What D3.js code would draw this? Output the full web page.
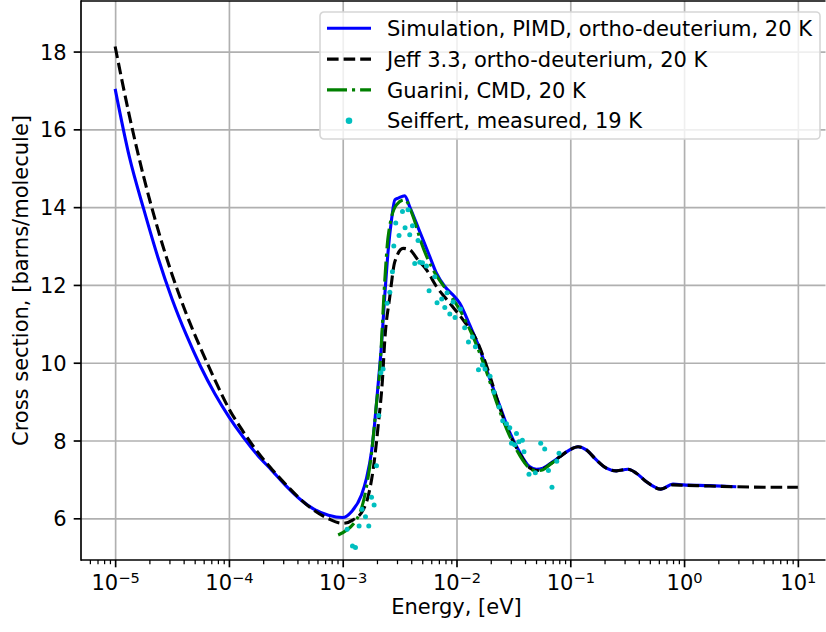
<!DOCTYPE html>
<html>
<head>
<meta charset="utf-8">
<script src="https://cdn.jsdelivr.net/npm/d3@7"></script>
<style>
  body { margin: 0; background: #fff; }
  svg { display: block; font-family: 'DejaVu Sans', sans-serif; }
</style>
</head>
<body>
<svg width="826" height="632"></svg>
<script>
// Simulation, PIMD (energy in eV, cross section in barns/molecule)
const simEnergy = [1.00e-5, 1.334e-5, 1.778e-5, 2.371e-5, 3.162e-5, 4.217e-5, 5.623e-5, 7.499e-5, 1.00e-4,
  1.334e-4, 1.778e-4, 2.371e-4, 3.162e-4, 4.217e-4, 5.623e-4, 7.499e-4, 1.00e-3, 1.194e-3, 1.462e-3,
  1.618e-3, 1.791e-3, 1.914e-3, 2.046e-3, 2.193e-3,
  2.344e-3, 2.512e-3, 2.692e-3, 2.871e-3, 3.069e-3, 3.508e-3, 3.882e-3, 4.753e-3, 5.821e-3, 6.668e-3,
  7.889e-3, 9.333e-3, 1.069e-2, 1.306e-2, 1.596e-2, 1.954e-2, 2.388e-2, 2.917e-2, 3.573e-2, 4.375e-2,
  5.035e-2, 5.754e-2, 7.047e-2, 8.072e-2, 9.886e-2, 0.1169, 0.1384, 0.1694, 0.2075, 0.2541, 0.3214,
  0.3802, 0.4667, 0.6252, 0.7980, 0.9772, 1.690, 2.877]
const simXs = [17.04, 15.29, 13.96, 12.72, 11.64, 10.72, 9.91, 9.21, 8.61,
  8.09, 7.63, 7.24, 6.84, 6.49, 6.23, 6.08, 6.02, 6.17, 6.60,
  7.03, 7.71, 8.48, 9.43, 10.46,
  11.74, 12.90, 13.70, 14.19, 14.23, 14.29, 14.01, 13.37, 12.73, 12.30,
  11.96, 11.74, 11.53, 10.97, 10.37, 9.60, 8.91, 8.23, 7.71, 7.33,
  7.26, 7.29, 7.46, 7.58, 7.76, 7.84, 7.76, 7.50, 7.29, 7.22, 7.26,
  7.16, 6.94, 6.75, 6.88, 6.86, 6.84, 6.81]

// Jeff 3.3
const jeffEnergy = [1.00e-5, 1.334e-5, 1.778e-5, 2.371e-5, 3.162e-5, 4.217e-5, 5.623e-5, 7.499e-5, 1.00e-4,
  1.334e-4, 1.778e-4, 2.371e-4, 3.162e-4, 4.217e-4, 5.623e-4, 7.499e-4, 1.00e-3, 1.233e-3, 1.510e-3,
  1.671e-3, 1.849e-3, 2.046e-3, 2.234e-3, 2.344e-3,
  2.594e-3, 2.871e-3, 3.396e-3, 3.882e-3, 4.592e-3, 5.445e-3, 6.668e-3, 8.730e-3, 1.143e-2, 1.496e-2,
  1.892e-2, 2.388e-2, 2.917e-2, 3.573e-2, 4.375e-2, 5.035e-2, 5.754e-2, 7.047e-2, 8.072e-2, 9.886e-2,
  0.1169, 0.1384, 0.1694, 0.2075, 0.2541, 0.3214, 0.3802, 0.4667, 0.6252, 0.7980, 0.9772, 1.690, 2.877,
  5.0, 10.0]
const jeffXs = [18.13, 16.35, 14.79, 13.44, 12.27, 11.26, 10.38, 9.57, 8.82,
  8.23, 7.71, 7.27, 6.87, 6.50, 6.20, 5.99, 5.87, 5.96, 6.21,
  6.56, 7.24, 8.36, 9.56, 10.59,
  11.70, 12.60, 12.94, 12.90, 12.64, 12.39, 11.96, 11.53, 11.10, 10.59,
  9.81, 8.87, 8.18, 7.68, 7.30, 7.23, 7.27, 7.45, 7.58, 7.76,
  7.84, 7.76, 7.50, 7.29, 7.22, 7.26, 7.16, 6.94, 6.75, 6.86, 6.85, 6.83, 6.81,
  6.80, 6.80]

// Guarini, CMD
const guariniEnergy = [9.12e-4, 1.365e-3, 1.618e-3, 1.791e-3, 1.982e-3, 2.118e-3, 2.344e-3, 2.506e-3,
  2.972e-3, 3.508e-3, 4.150e-3, 4.920e-3, 6.223e-3, 8.166e-3, 1.069e-2, 1.396e-2, 1.770e-2, 2.239e-2,
  2.754e-2, 3.388e-2, 4.169e-2, 5.012e-2, 5.754e-2, 6.607e-2, 7.551e-2]
const guariniXs = [5.57, 6.04, 6.81, 7.67, 8.96, 9.81, 12.13, 13.24,
  14.06, 14.19, 13.76, 13.07, 12.39, 11.87, 11.36, 10.67, 9.90, 9.00,
  8.30, 7.75, 7.35, 7.22, 7.25, 7.38, 7.50]

// Seiffert, measured
const seiffertEnergy = [1.219e-3, 1.294e-3, 1.094e-3, 1.393e-3, 1.694e-3, 1.585e-3, 1.479e-3, 1.888e-3,
  1.791e-3, 1.982e-3, 2.075e-3, 2.163e-3, 2.265e-3, 2.455e-3, 2.594e-3, 2.735e-3, 2.812e-3, 2.924e-3,
  3.126e-3, 3.350e-3, 3.532e-3, 3.750e-3, 3.882e-3, 4.102e-3, 4.592e-3, 4.295e-3, 4.753e-3, 5.023e-3,
  5.445e-3, 5.741e-3, 6.442e-3, 6.745e-3, 7.413e-3, 7.889e-3, 8.260e-3, 8.730e-3, 9.333e-3, 9.705e-3,
  1.084e-2, 1.180e-2, 1.274e-2, 1.380e-2, 1.466e-2, 1.560e-2, 1.690e-2, 1.782e-2, 1.972e-2, 2.138e-2,
  2.366e-2, 2.547e-2, 2.748e-2, 2.938e-2, 3.365e-2, 3.041e-2, 3.251e-2, 3.540e-2, 3.793e-2, 3.917e-2,
  4.335e-2, 4.932e-2, 5.495e-2, 5.957e-2, 6.427e-2, 6.902e-2, 7.603e-2, 7.962e-2]
const seiffertXs = [5.29, 5.25, 5.72, 5.80, 5.80, 6.04, 6.23, 6.34,
  6.54, 7.35, 8.64, 9.74, 9.84, 11.53, 11.81, 12.34, 13.00, 13.59,
  13.27, 13.89, 13.47, 13.93, 13.29, 13.52, 13.14, 12.55, 12.58, 12.57,
  12.49, 11.85, 12.21, 11.54, 11.64, 11.42, 11.80, 11.25, 11.56, 11.16,
  11.38, 10.90, 10.53, 10.66, 10.41, 9.82, 9.94, 9.84, 9.65, 9.24,
  8.86, 8.51, 8.43, 8.33, 8.18, 7.93, 7.89, 7.97, 8.01, 7.71,
  7.13, 7.17, 7.93, 7.78, 7.23, 6.80, 7.47, 7.67]

const xTickPowers = [-5, -4, -3, -2, -1, 0, 1]
const yTicks = [6, 8, 10, 12, 14, 16, 18]
const legendLabels = [
  'Simulation, PIMD, ortho-deuterium, 20 K',
  'Jeff 3.3, ortho-deuterium, 20 K',
  'Guarini, CMD, 20 K',
  'Seiffert, measured, 19 K'
]

const svg = d3.select('svg')
const width = +svg.attr('width')
const fontSize = 21

// the axes box runs a few px past the right edge of the picture
const box = { left: 81, top: 1, right: 832, bottom: 560 }
const visRight = width - 0.5
const innerHeight = box.bottom - box.top

const xScale = d3.scaleLog()
  .domain([10 ** -5.3, 10 ** 1.3])
  .range([box.left, box.right])

const yScale = d3.scaleLinear()
  .domain([4.928, 19.30])
  .range([box.bottom, box.top])

const xMajor = xTickPowers.map(p => 10 ** p)
const xMinor = []
d3.range(-6, 2).forEach(p => {
  d3.range(2, 10).forEach(m => {
    const v = m * 10 ** p
    if (v > xScale.domain()[0] && xScale(v) < visRight) xMinor.push(v)
  })
})

svg.append('defs').append('clipPath').attr('id', 'plot-area')
  .append('rect')
  .attr('x', box.left).attr('y', box.top)
  .attr('width', visRight - box.left).attr('height', innerHeight)

// grid
const gridX = svg.append('g')
  .attr('transform', `translate(0, ${box.bottom})`)
  .call(d3.axisBottom(xScale).tickValues(xMajor).tickSize(-innerHeight).tickFormat(''))
gridX.select('.domain').remove()
gridX.selectAll('text').remove()
gridX.selectAll('line').attr('stroke', '#b0b0b0').attr('stroke-width', 1.67)

const gridY = svg.append('g')
  .attr('transform', `translate(${box.left}, 0)`)
  .call(d3.axisLeft(yScale).tickValues(yTicks).tickSize(-(visRight - box.left)).tickFormat(''))
gridY.select('.domain').remove()
gridY.selectAll('text').remove()
gridY.selectAll('line').attr('stroke', '#b0b0b0').attr('stroke-width', 1.67)

// curves
const plot = svg.append('g').attr('clip-path', 'url(#plot-area)')

const line = d3.line()
  .x(d => xScale(d[0]))
  .y(d => yScale(d[1]))
  .curve(d3.curveMonotoneX)

const series = [
  { e: simEnergy, v: simXs, color: '#0000ff', dash: null },
  { e: jeffEnergy, v: jeffXs, color: '#000000', dash: '11.6 5' },
  { e: guariniEnergy, v: guariniXs, color: '#008000', dash: '20 5 3.1 5' }
]

series.forEach(s => {
  plot.append('path')
    .datum(d3.zip(s.e, s.v))
    .attr('d', line)
    .attr('fill', 'none')
    .attr('stroke', s.color)
    .attr('stroke-width', 3.1)
    .attr('stroke-dasharray', s.dash)
})

plot.selectAll('circle').data(d3.zip(seiffertEnergy, seiffertXs))
  .enter().append('circle')
  .attr('cx', d => xScale(d[0]))
  .attr('cy', d => yScale(d[1]))
  .attr('r', 2.5)
  .attr('fill', '#00bfbf')

// axes
const xAxisG = svg.append('g')
  .attr('transform', `translate(0, ${box.bottom})`)
  .call(d3.axisBottom(xScale).tickValues(xMajor).tickSize(7.3).tickFormat(''))
xAxisG.select('.domain').remove()
xAxisG.selectAll('text').remove()
xAxisG.selectAll('line').attr('stroke-width', 1.67)

xAxisG.selectAll('.tick').append('text')
  .attr('y', 30)
  .attr('fill', '#000')
  .attr('font-size', fontSize)
  .attr('font-family', 'DejaVu Sans')
  .attr('text-anchor', 'middle')
  .each(function (d) {
    const p = Math.round(Math.log10(d))
    const t = d3.select(this)
    t.append('tspan').text('10')
    t.append('tspan')
      .attr('dy', -7.5)
      .attr('font-size', 14.6)
      .text(p < 0 ? '\u2212' + Math.abs(p) : p)
  })

const xMinorG = svg.append('g')
  .attr('transform', `translate(0, ${box.bottom})`)
  .call(d3.axisBottom(xScale).tickValues(xMinor).tickSize(4.2).tickFormat(''))
xMinorG.select('.domain').remove()
xMinorG.selectAll('text').remove()
xMinorG.selectAll('line').attr('stroke-width', 1.25)

const yAxisG = svg.append('g')
  .attr('transform', `translate(${box.left}, 0)`)
  .call(d3.axisLeft(yScale).tickValues(yTicks).tickSize(7.3).tickPadding(7))
yAxisG.select('.domain').remove()
yAxisG.selectAll('line').attr('stroke-width', 1.67)
yAxisG.selectAll('text')
  .attr('font-size', fontSize)
  .attr('font-family', 'DejaVu Sans')
  .attr('fill', '#000')
  .attr('dy', '0.36em')

// spines
const spine = (x1, y1, x2, y2) => svg.append('line')
  .attr('x1', x1).attr('y1', y1).attr('x2', x2).attr('y2', y2)
  .attr('stroke', '#000').attr('stroke-width', 1.67)
spine(box.left, box.top - 0.8, box.left, box.bottom + 0.8)
spine(box.left, box.bottom, visRight, box.bottom)
spine(box.left, box.top, visRight, box.top)

// labels
svg.append('text')
  .attr('x', (box.left + box.right) / 2)
  .attr('y', 614)
  .attr('text-anchor', 'middle')
  .attr('font-size', fontSize)
  .text('Energy, [eV]')

svg.append('text')
  .attr('transform', `translate(28, ${(box.top + box.bottom) / 2}) rotate(-90)`)
  .attr('text-anchor', 'middle')
  .attr('font-size', fontSize)
  .text('Cross section, [barns/molecule]')

// legend
const legend = svg.append('g').attr('transform', 'translate(320, 12)')
legend.append('rect')
  .attr('width', 500).attr('height', 127)
  .attr('rx', 4)
  .attr('fill', '#fff').attr('fill-opacity', 0.8)
  .attr('stroke', '#d6d6d6').attr('stroke-width', 1.6)

const rowY = i => 16.3 + i * 30.8

series.forEach((s, i) => {
  legend.append('line')
    .attr('x1', 7).attr('x2', 51)
    .attr('y1', rowY(i)).attr('y2', rowY(i))
    .attr('stroke', s.color)
    .attr('stroke-width', 3.1)
    .attr('stroke-dasharray', s.dash)
})
legend.append('circle')
  .attr('cx', 29).attr('cy', rowY(3))
  .attr('r', 3.3)
  .attr('fill', '#00bfbf')

legend.selectAll('text.label').data(legendLabels)
  .enter().append('text')
  .attr('class', 'label')
  .attr('x', 67)
  .attr('y', (d, i) => rowY(i) + 7.6)
  .attr('font-size', fontSize)
  .text(d => d)
</script>
</body>
</html>
